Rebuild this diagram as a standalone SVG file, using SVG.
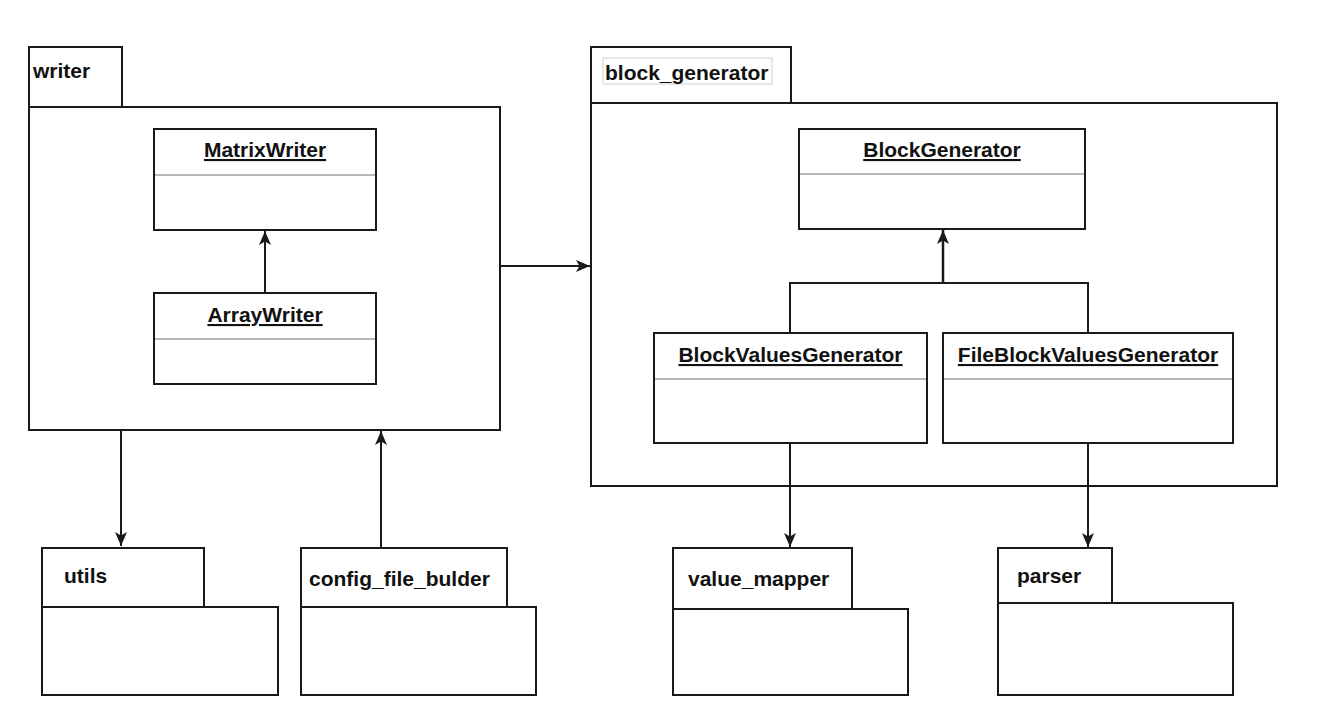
<svg xmlns="http://www.w3.org/2000/svg" width="1318" height="726" viewBox="0 0 1318 726">
  <style>
    .pkg { fill: #ffffff; stroke: #1a1a1a; stroke-width: 2; }
    .cls { fill: #ffffff; stroke: #1a1a1a; stroke-width: 2; }
    .div { stroke: #a0a0a0; stroke-width: 1.5; fill: none; }
    .lbl { font-family: "Liberation Sans", Arial, Helvetica, sans-serif; font-size: 21px; font-weight: bold; fill: #111111; }
    .cname { font-family: "Liberation Sans", Arial, Helvetica, sans-serif; font-size: 21px; font-weight: bold; fill: #111111; text-anchor: middle; text-decoration: underline; }
    .edge { fill: none; stroke: #1a1a1a; stroke-width: 2; }
    .thick { stroke-width: 2.5; }
    .arr { marker-end: url(#classic); }
  </style>
  <defs>
    <marker id="classic" viewBox="0 0 14 12" markerWidth="14" markerHeight="12" refX="14" refY="6" orient="auto" markerUnits="userSpaceOnUse">
      <path d="M0,0 L14,6 L0,12 L3.5,6 Z" fill="#1a1a1a"/>
    </marker>
  </defs>
  <rect width="1318" height="726" fill="#ffffff"/>

  <g id="writer">
    <rect class="pkg" x="29" y="47" width="93" height="60"/>
    <rect class="pkg" x="29" y="107" width="471" height="323"/>
    <text class="lbl" x="33" y="78">writer</text>
  </g>

  <g id="MatrixWriter">
    <rect class="cls" x="154" y="129" width="222" height="101"/>
    <line class="div" x1="155" y1="175" x2="375" y2="175"/>
    <text class="cname" x="265" y="157">MatrixWriter</text>
  </g>

  <g id="ArrayWriter">
    <rect class="cls" x="154" y="293" width="222" height="91"/>
    <line class="div" x1="155" y1="339" x2="375" y2="339"/>
    <text class="cname" x="265" y="322">ArrayWriter</text>
  </g>

  <g id="block_generator">
    <rect class="pkg" x="591" y="47" width="200" height="56"/>
    <rect class="pkg" x="591" y="103" width="686" height="383"/>
    <rect x="603" y="58" width="169" height="26" fill="#ffffff" stroke="#cfcfcf" stroke-width="1"/>
    <text class="lbl" x="605" y="80">block_generator</text>
  </g>

  <g id="BlockGenerator">
    <rect class="cls" x="799" y="129" width="286" height="100"/>
    <line class="div" x1="800" y1="174" x2="1084" y2="174"/>
    <text class="cname" x="942" y="157">BlockGenerator</text>
  </g>

  <g id="BlockValuesGenerator">
    <rect class="cls" x="654" y="333" width="273" height="110"/>
    <line class="div" x1="655" y1="379" x2="926" y2="379"/>
    <text class="cname" x="790.5" y="362">BlockValuesGenerator</text>
  </g>

  <g id="FileBlockValuesGenerator">
    <rect class="cls" x="943" y="333" width="290" height="110"/>
    <line class="div" x1="944" y1="379" x2="1232" y2="379"/>
    <text class="cname" x="1088" y="362">FileBlockValuesGenerator</text>
  </g>

  <g id="utils">
    <rect class="pkg" x="42" y="548" width="162" height="59"/>
    <rect class="pkg" x="42" y="607" width="236" height="88"/>
    <text class="lbl" x="64" y="583">utils</text>
  </g>

  <g id="config_file_bulder">
    <rect class="pkg" x="301" y="548" width="206" height="59"/>
    <rect class="pkg" x="301" y="607" width="235" height="88"/>
    <text class="lbl" x="309" y="586">config_file_bulder</text>
  </g>

  <g id="value_mapper">
    <rect class="pkg" x="673" y="548" width="179" height="61"/>
    <rect class="pkg" x="673" y="609" width="235" height="86"/>
    <text class="lbl" x="688" y="586">value_mapper</text>
  </g>

  <g id="parser">
    <rect class="pkg" x="998" y="548" width="114" height="55"/>
    <rect class="pkg" x="998" y="603" width="235" height="92"/>
    <text class="lbl" x="1017" y="583">parser</text>
  </g>

  <g id="connectors">
    <path class="edge arr" d="M265,293 L265,231"/>
    <path class="edge arr" d="M500,266 L590,266"/>
    <path class="edge thick arr" d="M943,283 L943,230"/>
    <path class="edge" d="M790,333 L790,283 L1088,283 L1088,333"/>
    <path class="edge arr" d="M121,430 L121,546"/>
    <path class="edge arr" d="M381,548 L381,431"/>
    <path class="edge arr" d="M790,443 L790,547"/>
    <path class="edge arr" d="M1088,443 L1088,547"/>
  </g>
</svg>
